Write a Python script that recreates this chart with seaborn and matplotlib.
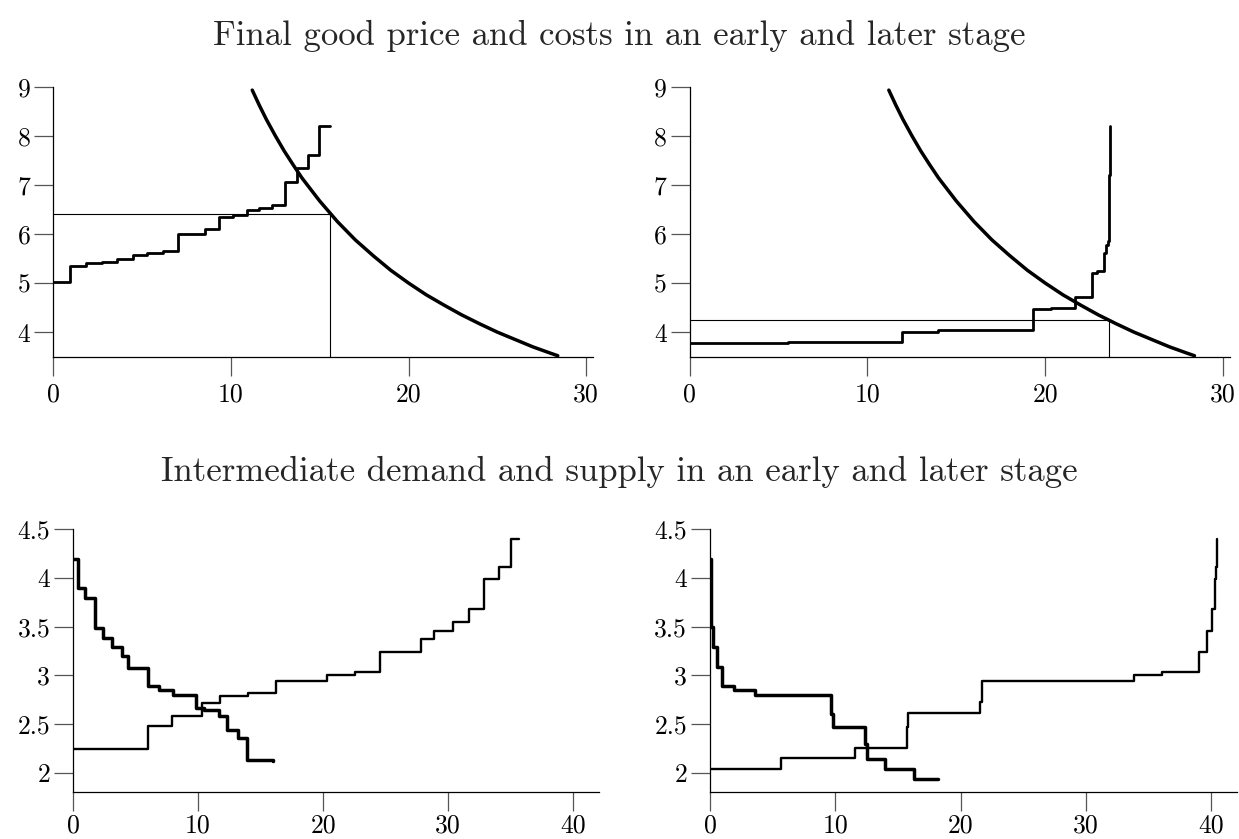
import matplotlib
matplotlib.use("Agg")
import matplotlib.pyplot as plt
import seaborn as sns

# ---------------- data ----------------
title_top = "Final good price and costs in an early and later stage"
title_bottom = "Intermediate demand and supply in an early and later stage"

# final good demand (price) curve (same in both top panels)
demand_q = [11.2, 11.6, 12.0, 12.5, 13.0, 13.5, 14.0, 15.0, 16.0, 17.0, 18.0, 19.0,
            20.0, 21.0, 22.0, 23.0, 24.0, 25.0, 26.0, 27.0, 28.0, 28.4]
demand_p = [8.93, 8.62, 8.33, 8.00, 7.69, 7.41, 7.14, 6.67, 6.25, 5.88, 5.56, 5.26,
            5.00, 4.76, 4.55, 4.35, 4.17, 4.00, 3.85, 3.70, 3.57, 3.52]

# final good cost steps, early stage
cost_early_q = [0, 0.96, 1.85, 2.73, 3.6, 4.47, 5.3, 6.16, 7.0, 8.54, 9.33, 10.13,
                10.88, 11.6, 12.34, 13.03, 13.7, 14.34, 14.96, 15.56]
cost_early_c = [5.03, 5.35, 5.40, 5.43, 5.50, 5.57, 5.62, 5.65, 6.00, 6.11, 6.34, 6.38,
                6.48, 6.53, 6.58, 7.05, 7.35, 7.60, 8.19, 8.19]
eq_early_q = 15.56
eq_early_p = 6.41

# final good cost steps, later stage
cost_late_q = [0, 5.54, 11.92, 13.96, 19.33, 20.30, 21.70, 22.62, 22.94, 23.31,
               23.42, 23.52, 23.58, 23.61, 23.63]
cost_late_c = [3.77, 3.79, 4.01, 4.04, 4.47, 4.49, 4.72, 5.21, 5.25, 5.62,
               5.78, 5.85, 6.30, 7.20, 8.19]
eq_late_q = 23.6
eq_late_p = 4.25

# intermediate demand / supply, early stage
int_early_dq = [0, 0.41, 0.98, 1.74, 2.37, 3.10, 3.89, 4.43, 6.01, 6.90, 7.97, 9.81,
                10.44, 11.71, 12.34, 13.23, 13.92, 15.98]
int_early_dp = [4.19, 3.90, 3.79, 3.49, 3.38, 3.29, 3.20, 3.08, 2.89, 2.85, 2.80, 2.67,
                2.64, 2.58, 2.44, 2.36, 2.13, 2.12]
int_early_sq = [0, 3.0, 6.01, 7.91, 10.35, 11.77, 13.96, 16.2, 20.35, 22.53, 24.59,
                27.85, 28.86, 30.38, 31.71, 32.91, 34.08, 35.03, 35.66]
int_early_sp = [2.24, 2.245, 2.48, 2.58, 2.72, 2.79, 2.82, 2.94, 3.00, 3.04, 3.24,
                3.37, 3.46, 3.55, 3.68, 3.99, 4.11, 4.40, 4.40]

# intermediate demand / supply, later stage
int_late_dq = [0, 0.05, 0.10, 0.20, 0.52, 0.92, 1.95, 3.57, 9.68, 9.80, 12.36, 12.50,
               13.95, 16.24, 18.22]
int_late_dp = [4.19, 3.79, 3.50, 3.29, 3.09, 2.89, 2.85, 2.80, 2.60, 2.47, 2.30, 2.14,
               2.04, 1.94, 1.94]
int_late_sq = [0, 5.65, 11.6, 15.69, 15.8, 21.52, 21.67, 33.85, 36.08, 38.98, 39.68,
               40.05, 40.30, 40.36, 40.42, 40.45]
int_late_sp = [2.04, 2.15, 2.25, 2.47, 2.61, 2.73, 2.94, 3.00, 3.04, 3.24, 3.46,
               3.68, 3.99, 4.11, 4.40, 4.40]

top_xticks = [0, 10, 20, 30]
top_yticks = [4, 5, 6, 7, 8, 9]
top_ylabels = ["4", "5", "6", "7", "8", "9"]
bot_xticks = [0, 10, 20, 30, 40]
bot_yticks = [2, 2.5, 3, 3.5, 4, 4.5]
bot_ylabels = ["2", "2.5", "3", "3.5", "4", "4.5"]

# ---------------- style ----------------
sns.set_style("ticks")
plt.rcParams['font.family'] = ['cmr10', 'DejaVu Serif']
plt.rcParams['axes.formatter.use_mathtext'] = True
plt.rcParams['mathtext.fontset'] = 'cm'

W, H = 1239, 839
fig = plt.figure(figsize=(W / 100, H / 100), dpi=100)
fig.patch.set_facecolor("white")


def add_ax(x0, x1, ytop, ybot):
    return fig.add_axes([x0 / W, 1 - ybot / H, (x1 - x0) / W, (ybot - ytop) / H])


def style(ax, xlim, ylim, xticks, yticks, ylabels, xpad):
    ax.set_xlim(*xlim)
    ax.set_ylim(*ylim)
    ax.set_xticks(xticks)
    ax.set_xticklabels([str(t) for t in xticks])
    ax.set_yticks(yticks)
    ax.set_yticklabels(ylabels)
    ax.set_xlabel("")
    ax.set_ylabel("")
    for s in ["top", "right"]:
        ax.spines[s].set_visible(False)
    for s in ["left", "bottom"]:
        ax.spines[s].set_linewidth(0.9)
        ax.spines[s].set_color("black")
    ax.tick_params(direction="out", length=13.5, width=0.9, color="#555555",
                   labelsize=18.5, labelcolor="black")
    ax.tick_params(axis="x", pad=xpad)
    ax.tick_params(axis="y", pad=3)
    ax.patch.set_alpha(0)
    ax.grid(False)


def steps(ax, q, p, lw):
    sns.lineplot(x=q, y=p, ax=ax, color="black", lw=lw, drawstyle="steps-post",
                 sort=False, estimator=None, legend=False)


# top-left
ax1 = add_ax(53.3, 593.3, 86.7, 356.7)
sns.lineplot(x=[0, eq_early_q, eq_early_q], y=[eq_early_p, eq_early_p, 3.5], ax=ax1,
             color="black", lw=0.8, sort=False, estimator=None, legend=False)
steps(ax1, cost_early_q, cost_early_c, 2.0)
sns.lineplot(x=demand_q, y=demand_p, ax=ax1, color="black", lw=2.5, sort=False,
             estimator=None, legend=False)
style(ax1, (0, 30.4), (3.5, 9), top_xticks, top_yticks, top_ylabels, 5)

# top-right
ax2 = add_ax(689.8, 1230, 86.7, 356.7)
sns.lineplot(x=[0, eq_late_q, eq_late_q], y=[eq_late_p, eq_late_p, 3.5], ax=ax2,
             color="black", lw=0.8, sort=False, estimator=None, legend=False)
steps(ax2, cost_late_q, cost_late_c, 2.0)
sns.lineplot(x=demand_q, y=demand_p, ax=ax2, color="black", lw=2.5, sort=False,
             estimator=None, legend=False)
style(ax2, (0, 30.4), (3.5, 9), top_xticks, top_yticks, top_ylabels, 5)

# bottom-left
ax3 = add_ax(73.1, 599, 529.3, 792.3)
steps(ax3, int_early_sq, int_early_sp, 1.7)
steps(ax3, int_early_dq, int_early_dp, 2.5)
style(ax3, (0, 42.07), (1.8, 4.5), bot_xticks, bot_yticks, bot_ylabels, 2)

# bottom-right
ax4 = add_ax(710, 1237, 529.3, 792.3)
steps(ax4, int_late_sq, int_late_sp, 1.7)
steps(ax4, int_late_dq, int_late_dp, 2.5)
style(ax4, (0, 42.05), (1.8, 4.5), bot_xticks, bot_yticks, bot_ylabels, 2)

fig.text(0.5, 1 - 36 / H, title_top, ha="center", va="center", fontsize=25)
fig.text(0.5, 1 - 472 / H, title_bottom, ha="center", va="center", fontsize=25)

fig.savefig("out.png", dpi=100, facecolor="white")
